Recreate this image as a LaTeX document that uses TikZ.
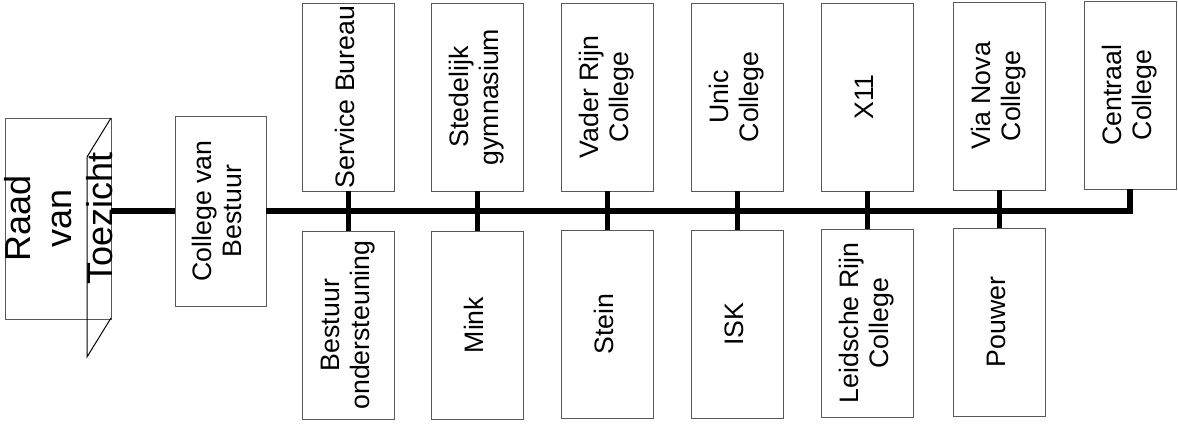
\documentclass[tikz,border=0pt]{standalone}
\usepackage{fontspec}
\setmainfont{Liberation Sans}
\newcommand{\rottext}[1]{\rotatebox{90}{\begin{tabular}{@{}c@{}}#1\end{tabular}}}
\tikzset{
  orgbox/.style={draw=black!65, line width=0.8pt, inner sep=0pt,
    minimum width=92pt, minimum height=188pt,
    font=\fontsize{26.7}{30}\selectfont},
  thickline/.style={line width=6pt},
  stubline/.style={line width=5pt},
  frameline/.style={line width=1pt, black}
}
\begin{document}
\begin{tikzpicture}[x=1pt,y=-1pt]
\useasboundingbox (0,0) rectangle (1178,426);
% Raad van Toezicht
\node[orgbox, minimum width=106pt, minimum height=201pt] (rvt) at (58,218.5) {};
\node[inner sep=0pt, font=\fontsize{36}{41}\selectfont] (rvtlabel) at (63,218.5) {\rottext{Raad\\van\\Toezicht}};
\coordinate (pa) at (111,118);
\coordinate (pb) at (87,157);
\coordinate (pc) at (87,357);
\coordinate (pd) at (111,318);
\draw[frameline] (pa) -- (pb) -- (pc) -- (pd);
% College van Bestuur
\node[orgbox, minimum width=91pt, minimum height=190pt] (cvb) at (220.5,211) {\rottext{College van\\Bestuur}};
% top row
\node[orgbox] (sb) at (348,97) {\rottext{Service Bureau}};
\node[orgbox] (sg) at (477,97) {\rottext{Stedelijk\\gymnasium}};
\node[orgbox] (vr) at (607,97) {\rottext{Vader Rijn\\College}};
\node[orgbox] (uc) at (737,97) {\rottext{Unic\\College}};
\node[orgbox] (xe) at (867,97) {\rottext{X11}};
\node[orgbox] (vn) at (999,96) {\rottext{Via Nova\\College}};
\node[orgbox] (cc) at (1130,95) {\rottext{Centraal\\College}};
% bottom row
\node[orgbox] (bo) at (348,325) {\rottext{Bestuur\\ondersteuning}};
\node[orgbox] (mk) at (477,325) {\rottext{Mink}};
\node[orgbox] (st) at (607,324) {\rottext{Stein}};
\node[orgbox] (isk) at (737,324) {\rottext{ISK}};
\node[orgbox] (lr) at (867,323) {\rottext{Leidsche Rijn\\College}};
\node[orgbox] (pw) at (999,322) {\rottext{Pouwer}};
% connectors
\draw[thickline] (rvt.east |- cvb.west) -- (cvb.west);
\draw[thickline] (cvb.east) -- (cvb.east -| cc.south) -- (cc.south);
\draw[stubline] (sb.south) -- (bo.north);
\draw[stubline] (sg.south) -- (mk.north);
\draw[stubline] (vr.south) -- (st.north);
\draw[stubline] (uc.south) -- (isk.north);
\draw[stubline] (xe.south) -- (lr.north);
\draw[stubline] (vn.south) -- (pw.north);
\end{tikzpicture}
\end{document}
